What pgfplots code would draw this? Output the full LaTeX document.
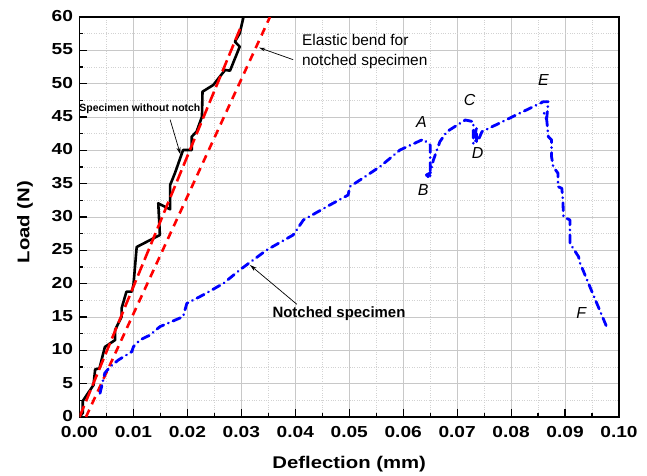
\documentclass[border=0pt]{standalone}
\usepackage{fontspec}
\setmainfont{Liberation Sans}
\newfontfamily\widebf{Liberation Sans}[FakeStretch=1.2]
\usepackage{pgfplots}
\pgfplotsset{compat=1.18}
\usetikzlibrary{arrows.meta}

\definecolor{gridmaj}{HTML}{C8C8C8}
\definecolor{gridmin}{HTML}{D2D2D2}

\begin{document}
\begin{tikzpicture}
\begin{axis}[
  name=ax, at={(0,0)}, anchor=south west,
  scale only axis, width=539.5bp, height=400bp,
  xmin=0, xmax=0.1, ymin=0, ymax=60,
  xtick={0,0.01,0.02,0.03,0.04,0.05,0.06,0.07,0.08,0.09,0.1},
  xticklabels={0.00,0.01,0.02,0.03,0.04,0.05,0.06,0.07,0.08,0.09,0.10},
  ytick={0,5,10,15,20,25,30,35,40,45,50,55,60},
  yticklabels={0,5,10,15,20,25,30,35,40,45,50,55,60},
  minor x tick num=1, minor y tick num=1,
  grid=both,
  major grid style={gridmaj, line width=0.9bp},
  minor grid style={gridmin, dotted, line width=0.9bp},
  axis line style={line width=1.6bp},
  tick style={black, line width=1.2bp},
  major tick length=8bp, minor tick length=4bp,
  tick align=inside, xtick pos=bottom, ytick pos=left,
  ticklabel style={font=\widebf\bfseries\fontsize{16}{18}\selectfont},
  xticklabel style={yshift=-6bp},
  yticklabel style={xshift=-3bp, yshift=1bp},
  clip mode=individual,
]
% specimen without notch
\addplot[black, line width=2.6bp, line join=round] coordinates {
 (0,0) (0.0006,0.6) (0.0006,2.4) (0.0026,4.8) (0.0029,7.15) (0.0037,7.3)
 (0.0047,10.5) (0.0066,11.55) (0.0066,13.05) (0.0078,15.05) (0.0078,16.3)
 (0.0087,18.8) (0.0097,18.8) (0.0100,19.8) (0.0106,25.5) (0.0149,27.3)
 (0.0146,32.05) (0.0168,31.15) (0.0168,34.8) (0.0177,36.6) (0.0192,40.05)
 (0.0208,40.05) (0.0208,42.05) (0.0217,42.8) (0.0227,45.05) (0.0228,48.8)
 (0.0248,49.8) (0.0260,51.05) (0.0270,52.05) (0.0279,51.95) (0.0297,55.55)
 (0.0288,56.3) (0.0297,57.55) (0.0304,60)};
% elastic lines
\addplot[red, line width=2.6bp, dash pattern=on 12bp off 5bp] coordinates {
 (0,0) (0.0300,58.7)};
\addplot[red, line width=2.6bp, dash pattern=on 8bp off 6bp] coordinates {
 (0.0012,0) (0.0353,60)};
% notched specimen
\addplot[blue, line width=2.8bp, line cap=round, line join=round,
  dash pattern=on 8bp off 5bp on 0.1bp off 5bp] coordinates {
 (0.0038,3.55) (0.0047,6.6) (0.0057,7.55) (0.0072,8.55) (0.0097,9.8)
 (0.0100,10.55) (0.0112,11.55) (0.0131,12.3) (0.0149,13.55) (0.0192,15.05)
 (0.0199,17.05) (0.0229,18.3) (0.0267,20.05) (0.0297,22.05) (0.0347,25.05)
 (0.0396,27.3) (0.0415,29.55) (0.0464,31.8) (0.0498,33.3) (0.0501,34.55)
 (0.0520,35.55) (0.0557,37.55) (0.0594,40.05) (0.0637,41.65) (0.0650,40.8)
 (0.0650,35.8) (0.0643,36.3) (0.0650,36.6) (0.0656,38.55) (0.0668,41.3)
 (0.0681,42.8) (0.0715,44.55) (0.0730,44.3) (0.0730,41.05) (0.0736,41.05)
 (0.0736,43.6) (0.0732,41.4) (0.0739,41.5) (0.0746,42.8) (0.0860,47.3)
 (0.0869,47.3) (0.0866,44.8) (0.0861,45.6) (0.0866,44.6) (0.0869,42.05)
 (0.0875,41.55) (0.0875,39.05) (0.0878,37.55) (0.0887,36.55) (0.0887,34.55)
 (0.0894,34.3) (0.0896,32.55) (0.0897,30.05) (0.0909,29.55) (0.0909,26.05)
 (0.0925,24.05) (0.0928,23.05) (0.0946,19.55) (0.0977,13.55)};

% annotations
\node[font=\bfseries\fontsize{10.5}{12}\selectfont] at (axis cs:0.0112,46.3) {Specimen without notch};
\draw[line width=0.7bp, -{Stealth[length=7bp,width=4bp]}] (axis cs:0.0168,44.6) -- (axis cs:0.0187,39.4);
\node[font=\fontsize{15.5}{20}\selectfont, align=left, anchor=west] at (axis cs:0.0406,54.8) {Elastic bend for\\notched specimen};
\draw[line width=0.7bp, -{Stealth[length=6bp,width=3.5bp]}] (axis cs:0.0396,53.6) -- (axis cs:0.0333,55.4);
\node[font=\bfseries\fontsize{15}{18}\selectfont] at (axis cs:0.0481,15.55) {Notched specimen};
\draw[line width=0.7bp, -{Stealth[length=7bp,width=4bp]}] (axis cs:0.0403,16.9) -- (axis cs:0.0316,22.8);
\node[font=\itshape\fontsize{16}{18}\selectfont] at (axis cs:0.0634,44.3) {A};
\node[font=\itshape\fontsize{16}{18}\selectfont] at (axis cs:0.0637,34.05) {B};
\node[font=\itshape\fontsize{16}{18}\selectfont] at (axis cs:0.0723,47.55) {C};
\node[font=\itshape\fontsize{16}{18}\selectfont] at (axis cs:0.0738,39.65) {D};
\node[font=\itshape\fontsize{16}{18}\selectfont] at (axis cs:0.0860,50.55) {E};
\node[font=\itshape\fontsize{16}{18}\selectfont] at (axis cs:0.0930,15.65) {F};
\end{axis}
\node[font=\widebf\bfseries\fontsize{17}{20}\selectfont] at ([yshift=-47bp]ax.south) {Deflection (mm)};
\node[rotate=90, font=\widebf\bfseries\fontsize{17}{20}\selectfont] at ([xshift=-54.5bp,yshift=-5bp]ax.west) {Load (N)};
\pgfresetboundingbox
\path ([shift={(-79.5bp,-59bp)}]ax.south west) rectangle ([shift={(28bp,17bp)}]ax.north east);
\end{tikzpicture}
\end{document}
